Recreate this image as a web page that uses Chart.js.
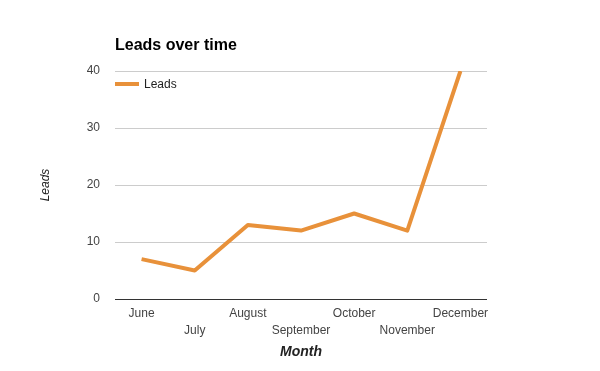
<!DOCTYPE html>
<html>
<head>
<meta charset="utf-8">
<script src="https://cdn.jsdelivr.net/npm/chart.js@4"></script>
<style>
  html, body { margin: 0; padding: 0; background: #fff; }
  #wrap { width: 600px; height: 371px; }
</style>
</head>
<body>
<div id="wrap"><canvas id="leadsChart" width="600" height="371"></canvas></div>
<script>
const FONT = '"Liberation Sans", Arial, sans-serif';

const months = ['June', 'July', 'August', 'September', 'October', 'November', 'December'];
const leads = [7, 5, 13, 12, 15, 12, 40];
const yTicks = [0, 10, 20, 30, 40];

const chartTitle = 'Leads over time';
const seriesName = 'Leads';
const xTitle = 'Month';
const yTitle = 'Leads';
const lineColor = '#e8913a';

// titulo y leyenda dibujados encima del area del grafico
const overlay = {
  id: 'overlay',
  afterDraw(chart) {
    const ctx = chart.ctx;
    const area = chart.chartArea;
    ctx.save();
    ctx.fillStyle = '#000';
    ctx.font = 'bold 16px ' + FONT;
    ctx.textBaseline = 'alphabetic';
    ctx.textAlign = 'left';
    ctx.fillText(chartTitle, area.left, 50);

    const ds = chart.data.datasets[0];
    ctx.strokeStyle = ds.borderColor;
    ctx.lineWidth = 4;
    ctx.beginPath();
    ctx.moveTo(area.left, 84);
    ctx.lineTo(area.left + 24, 84);
    ctx.stroke();
    ctx.fillStyle = '#222';
    ctx.font = '12px ' + FONT;
    ctx.fillText(ds.label, area.left + 29, 88);
    ctx.restore();
  }
};

const ctx = document.getElementById('leadsChart').getContext('2d');
new Chart(ctx, {
  type: 'line',
  data: {
    labels: months,
    datasets: [{
      label: seriesName,
      data: leads,
      borderColor: lineColor,
      backgroundColor: lineColor,
      borderWidth: 4,
      pointRadius: 0,
      tension: 0,
      borderJoinStyle: 'round'
    }]
  },
  options: {
    responsive: false,
    animation: false,
    layout: { padding: { top: 71, right: 113, left: 0, bottom: 0 } },
    plugins: {
      legend: { display: false },
      title: { display: false },
      tooltip: { enabled: false }
    },
    scales: {
      x: {
        offset: true,
        grid: { display: false, drawTicks: false },
        border: { display: false },
        ticks: {
          autoSkip: false,
          maxRotation: 0,
          padding: 6,
          color: '#444',
          font: { family: FONT, size: 12, lineHeight: 1.4 },
          callback: (v, i) => i % 2 ? ['', months[i]] : months[i]
        },
        title: {
          display: true,
          text: xTitle,
          color: '#222',
          font: { family: FONT, size: 14, weight: 'bold', style: 'italic' },
          padding: { top: 0, bottom: 10 }
        },
        afterFit: scale => { scale.height = 72; }
      },
      y: {
        min: 0,
        max: 40,
        afterBuildTicks: scale => { scale.ticks = yTicks.map(v => ({ value: v })); },
        grid: {
          drawTicks: false,
          color: c => c.tick && c.tick.value === 0 ? '#333' : '#ccc',
          lineWidth: 1
        },
        border: { display: false },
        ticks: {
          padding: 15,
          color: '#444',
          font: { family: FONT, size: 12 }
        },
        title: {
          display: true,
          text: yTitle,
          color: '#222',
          font: { family: FONT, size: 12, style: 'italic' },
          padding: { top: 38, bottom: 0 }
        },
        afterFit: scale => { scale.width = 115; }
      }
    }
  },
  plugins: [overlay]
});
</script>
</body>
</html>
